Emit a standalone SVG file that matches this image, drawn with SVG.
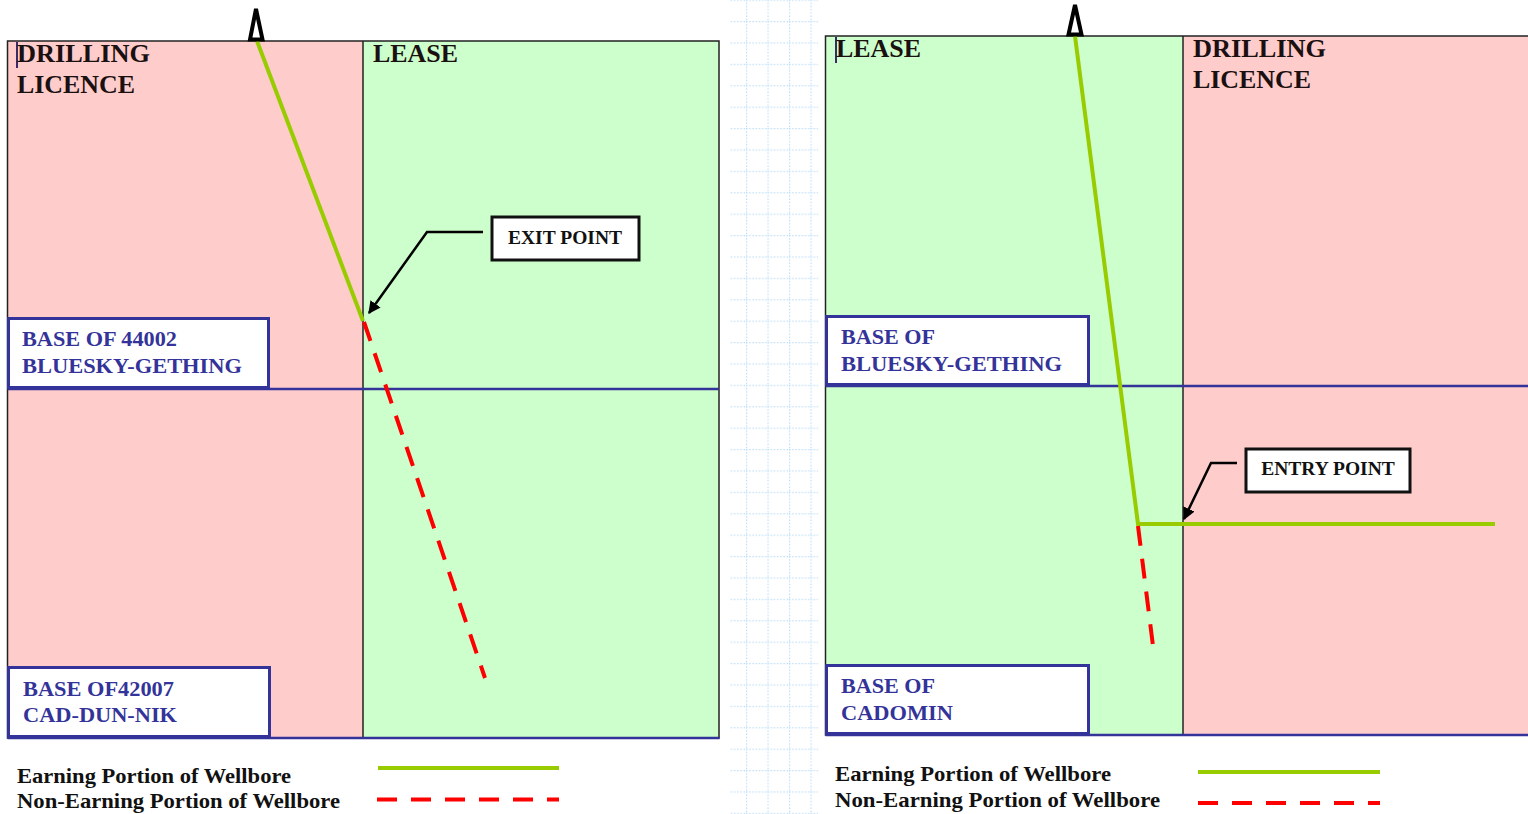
<svg xmlns="http://www.w3.org/2000/svg" width="1528" height="814" viewBox="0 0 1528 814">
<style>
.hdr{font-family:"Liberation Serif","Times New Roman",serif;font-weight:bold;font-size:26px;fill:#1a1010}
.lbl{font-family:"Liberation Serif","Times New Roman",serif;font-weight:bold;font-size:22px;fill:#333399}
.cal{font-family:"Liberation Serif","Times New Roman",serif;font-weight:bold;font-size:19.5px;fill:#111;text-anchor:middle}
.leg{font-family:"Liberation Serif","Times New Roman",serif;font-weight:bold;font-size:21px;fill:#111}
.pink{fill:#FFCCCC}
.grn{fill:#CCFFCC}
.frame{fill:none;stroke:#222;stroke-width:1.5}
.blue{stroke:#333399;stroke-width:2.5;fill:none}
.box{fill:#fff;stroke:#333399;stroke-width:3}
.cbox{fill:#fff;stroke:#111;stroke-width:3}
.earn{stroke:#99CC00;stroke-width:4;fill:none}
.non{stroke:#FF0000;stroke-width:4;fill:none;stroke-dasharray:20 13}
.tri{fill:#fff;stroke:#000;stroke-width:4;stroke-linejoin:miter}
.call{stroke:#000;stroke-width:2.5;fill:none}
.cur{stroke:#3a2a66;stroke-width:2}
</style>
<defs>
<marker id="ah" viewBox="0 0 10 10" refX="9" refY="5" markerWidth="5" markerHeight="5" orient="auto" markerUnits="strokeWidth">
<path d="M0,0 L10,5 L0,10 z" fill="#000"/>
</marker>
<pattern id="grid" x="724.5" y="21" width="21.5" height="21.4" patternUnits="userSpaceOnUse">
<line x1="0" y1="0.5" x2="21.5" y2="0.5" stroke="#b9dcf5" stroke-width="1.3" stroke-dasharray="1.4 1.8"/>
<line x1="0.5" y1="0" x2="0.5" y2="21.4" stroke="#b9dcf5" stroke-width="1.3" stroke-dasharray="1.4 1.8"/>
</pattern>
</defs>
<rect width="1528" height="814" fill="#fff"/>
<rect x="730" y="0" width="88" height="814" fill="url(#grid)"/>

<g id="left-panel">
<rect class="pink" x="7.5" y="41" width="355.5" height="697"/>
<rect class="grn" x="363" y="41" width="356" height="697"/>
<rect class="frame" x="7.5" y="41" width="711.5" height="697"/>
<line x1="363" y1="41" x2="363" y2="738" stroke="#222" stroke-width="1.5"/>
<line class="blue" x1="7.5" y1="389" x2="719" y2="389"/>
<line class="blue" x1="7.5" y1="738" x2="719.5" y2="738"/>
<line class="cur" x1="17" y1="42" x2="17" y2="68"/>
<text class="hdr" x="17" y="62" textLength="133" lengthAdjust="spacingAndGlyphs">DRILLING</text>
<text class="hdr" x="17" y="93" textLength="118" lengthAdjust="spacingAndGlyphs">LICENCE</text>
<text class="hdr" x="373" y="62" textLength="85" lengthAdjust="spacingAndGlyphs">LEASE</text>
</g>

<g id="right-panel">
<rect class="grn" x="825.5" y="36" width="357.5" height="699"/>
<rect class="pink" x="1183" y="36" width="346" height="699"/>
<rect class="frame" x="825.5" y="36" width="710" height="699"/>
<line x1="1183" y1="36" x2="1183" y2="735" stroke="#222" stroke-width="1.5"/>
<line class="blue" x1="825.5" y1="386" x2="1528" y2="386"/>
<line class="blue" x1="825.5" y1="735" x2="1528" y2="735"/>
<line class="cur" x1="836" y1="37" x2="836" y2="63"/>
<text class="hdr" x="836" y="57" textLength="85" lengthAdjust="spacingAndGlyphs">LEASE</text>
<text class="hdr" x="1193" y="57" textLength="133" lengthAdjust="spacingAndGlyphs">DRILLING</text>
<text class="hdr" x="1193" y="88" textLength="118" lengthAdjust="spacingAndGlyphs">LICENCE</text>
</g>

<g id="connectors">
<line class="earn" x1="257" y1="41" x2="363" y2="321"/>
<line class="non" x1="364" y1="322" x2="485" y2="678"/>
<polygon class="tri" points="256,9 250,39.5 262.5,39.5"/>
<polyline class="call" points="483,232 427,232 369,313" marker-end="url(#ah)"/>

<polyline class="earn" points="1075,36 1138,524 1495,524"/>
<line class="non" x1="1138" y1="526" x2="1153" y2="646"/>
<polygon class="tri" points="1075,5 1068.5,34.5 1081.5,34.5"/>
<polyline class="call" points="1237,463 1211,463 1184,519" marker-end="url(#ah)"/>
</g>

<g id="exit-point">
<rect class="cbox" x="492" y="217" width="147" height="43"/>
<text class="cal" x="565" y="244">EXIT POINT</text>
</g>
<g id="entry-point">
<rect class="cbox" x="1246" y="449" width="164" height="43"/>
<text class="cal" x="1328" y="475">ENTRY POINT</text>
</g>

<g id="base-44002">
<rect class="box" x="8.5" y="318.5" width="260" height="69"/>
<text class="lbl" x="22" y="346" textLength="155" lengthAdjust="spacingAndGlyphs">BASE OF 44002</text>
<text class="lbl" x="22" y="373" textLength="220" lengthAdjust="spacingAndGlyphs">BLUESKY-GETHING</text>
</g>
<g id="base-42007">
<rect class="box" x="8.5" y="667.5" width="261" height="69"/>
<text class="lbl" x="23" y="696" textLength="151" lengthAdjust="spacingAndGlyphs">BASE OF42007</text>
<text class="lbl" x="23" y="722" textLength="154" lengthAdjust="spacingAndGlyphs">CAD-DUN-NIK</text>
</g>
<g id="base-bluesky">
<rect class="box" x="826.5" y="316.5" width="262" height="68"/>
<text class="lbl" x="841" y="344" textLength="94" lengthAdjust="spacingAndGlyphs">BASE OF</text>
<text class="lbl" x="841" y="371" textLength="221" lengthAdjust="spacingAndGlyphs">BLUESKY-GETHING</text>
</g>
<g id="base-cadomin">
<rect class="box" x="826.5" y="665.5" width="262" height="68"/>
<text class="lbl" x="841" y="693" textLength="94" lengthAdjust="spacingAndGlyphs">BASE OF</text>
<text class="lbl" x="841" y="720" textLength="112" lengthAdjust="spacingAndGlyphs">CADOMIN</text>
</g>

<g id="legend-left">
<text class="leg" x="17" y="783" textLength="274" lengthAdjust="spacingAndGlyphs">Earning Portion of Wellbore</text>
<text class="leg" x="17" y="808" textLength="323" lengthAdjust="spacingAndGlyphs">Non-Earning Portion of Wellbore</text>
<line class="earn" x1="378" y1="768" x2="559" y2="768"/>
<line class="non" x1="377" y1="799.5" x2="559" y2="799.5" style="stroke-dasharray:20 14"/>
</g>
<g id="legend-right">
<text class="leg" x="835" y="781" textLength="276" lengthAdjust="spacingAndGlyphs">Earning Portion of Wellbore</text>
<text class="leg" x="835" y="807" textLength="325" lengthAdjust="spacingAndGlyphs">Non-Earning Portion of Wellbore</text>
<line class="earn" x1="1198" y1="772" x2="1380" y2="772"/>
<line class="non" x1="1198" y1="803" x2="1380" y2="803" style="stroke-dasharray:20 14"/>
</g>
</svg>
